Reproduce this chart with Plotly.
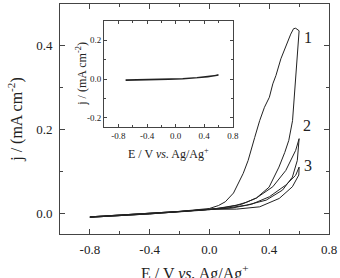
import plotly.graph_objects as go

# ---- data ----
# cycle 1
E1_fwd = [-0.8, -0.6, -0.4, -0.2, 0.0, 0.06, 0.106, 0.161, 0.226, 0.259, 0.303, 0.336, 0.368, 0.401, 0.424, 0.445, 0.478, 0.511, 0.544, 0.563, 0.577, 0.6]
j1_fwd = [-0.009, -0.005, -0.001, 0.004, 0.011, 0.018, 0.027, 0.048, 0.095, 0.126, 0.181, 0.221, 0.253, 0.277, 0.309, 0.329, 0.369, 0.400, 0.428, 0.441, 0.442, 0.436]
E1_rev = [0.6, 0.579, 0.566, 0.556, 0.531, 0.504, 0.465, 0.399, 0.314, 0.248, 0.182, 0.084, 0.0, -0.2, -0.4, -0.6, -0.8]
j1_rev = [0.436, 0.340, 0.269, 0.221, 0.174, 0.145, 0.110, 0.062, 0.036, 0.026, 0.019, 0.013, 0.008, 0.003, -0.002, -0.006, -0.010]
# cycle 2
E2_fwd = [-0.8, -0.6, -0.4, -0.2, 0.0, 0.117, 0.248, 0.380, 0.489, 0.555, 0.588, 0.6]
j2_fwd = [-0.009, -0.005, -0.001, 0.004, 0.009, 0.012, 0.019, 0.031, 0.055, 0.086, 0.126, 0.178]
E2_rev = [0.6, 0.577, 0.511, 0.424, 0.314, 0.215, 0.117, 0.0, -0.2, -0.4, -0.6, -0.8]
j2_rev = [0.178, 0.150, 0.102, 0.063, 0.036, 0.021, 0.014, 0.009, 0.003, -0.002, -0.006, -0.010]
# cycle 3
E3_fwd = [-0.8, -0.6, -0.4, -0.2, 0.0, 0.182, 0.336, 0.467, 0.555, 0.598, 0.6]
j3_fwd = [-0.009, -0.005, -0.001, 0.004, 0.009, 0.0095, 0.015, 0.035, 0.063, 0.091, 0.110]
E3_rev = [0.6, 0.577, 0.511, 0.401, 0.281, 0.150, 0.0, -0.2, -0.4, -0.6, -0.8]
j3_rev = [0.110, 0.0905, 0.067, 0.039, 0.021, 0.012, 0.009, 0.003, -0.002, -0.006, -0.010]
# inset (blank electrode)
Ei_fwd = [-0.7, -0.5, -0.3, -0.1, 0.1, 0.3, 0.45, 0.6]
ji_fwd = [-0.004, -0.003, -0.001, 0.0, 0.002, 0.007, 0.012, 0.020]
Ei_rev = [0.6, 0.45, 0.3, 0.1, -0.1, -0.3, -0.5, -0.7]
ji_rev = [0.020, 0.011, 0.006, 0.001, -0.002, -0.004, -0.006, -0.007]

cycle_labels = ["1", "2", "3"]
label_E = [0.66, 0.65, 0.66]
label_j = [0.42, 0.21, 0.113]

x_ticks = [-0.8, -0.4, 0.0, 0.4, 0.8]
x_ticktext = ["-0.8", "-0.4", "0.0", "0.4", "0.8"]
y_ticks = [0.0, 0.2, 0.4]
y_ticktext = ["0.0", "0.2", "0.4"]
yi_ticks = [-0.2, 0.0, 0.2]
yi_ticktext = ["-0.2", "0.0", "0.2"]

FONT = "Liberation Serif"
LC = "#222"
AX = "#444"

fig = go.Figure()
for E, j in [(E1_fwd + E1_rev, j1_fwd + j1_rev),
             (E2_fwd + E2_rev, j2_fwd + j2_rev),
             (E3_fwd + E3_rev, j3_fwd + j3_rev)]:
    fig.add_trace(go.Scatter(x=E, y=j, mode="lines", line=dict(color=LC, width=1),
                             showlegend=False, hoverinfo="skip", xaxis="x", yaxis="y"))
fig.add_trace(go.Scatter(x=Ei_fwd + Ei_rev, y=ji_fwd + ji_rev, mode="lines",
                         line=dict(color=LC, width=1.3), showlegend=False,
                         hoverinfo="skip", xaxis="x2", yaxis="y2"))

main_ax = dict(showline=True, linecolor=AX, linewidth=1, mirror="ticks", ticks="inside",
               ticklen=5, tickcolor=AX, showgrid=False, zeroline=False,
               tickfont=dict(family=FONT, size=13, color=LC))
inset_ax = dict(showline=True, linecolor=AX, linewidth=1, mirror="ticks", ticks="inside",
                ticklen=3, tickcolor=AX, showgrid=False, zeroline=False,
                tickfont=dict(family=FONT, size=9, color=LC))

fig.update_layout(
    width=340, height=278,
    margin=dict(l=60, r=6, t=3, b=44),
    paper_bgcolor="white", plot_bgcolor="white",
    font=dict(family=FONT, color=LC),
    xaxis=dict(range=[-1.0, 0.8], tickvals=x_ticks, ticktext=x_ticktext,
               minor=dict(dtick=0.2, tick0=0, ticklen=3, ticks="inside", tickcolor=AX),
               ticklabelstandoff=3, **main_ax),
    yaxis=dict(range=[-0.05, 0.5], tickvals=y_ticks, ticktext=y_ticktext,
               minor=dict(dtick=0.1, tick0=0, ticklen=3, ticks="inside", tickcolor=AX),
               ticklabelstandoff=4, **main_ax),
    xaxis2=dict(domain=[0.1642, 0.6423], anchor="y2", range=[-1.0, 0.8],
                tickvals=x_ticks, ticktext=x_ticktext,
                minor=dict(dtick=0.2, tick0=0, ticklen=2, ticks="inside", tickcolor=AX),
                **inset_ax),
    yaxis2=dict(domain=[0.4632, 0.9264], anchor="x2", range=[-0.25, 0.3],
                tickvals=yi_ticks, ticktext=yi_ticktext,
                minor=dict(dtick=0.1, tick0=0, ticklen=2, ticks="inside", tickcolor=AX),
                **inset_ax),
)

ann = []
for t, xe, yj in zip(cycle_labels, label_E, label_j):
    ann.append(dict(x=xe, y=yj, xref="x", yref="y", text=t, showarrow=False,
                    font=dict(family=FONT, size=16, color=LC), xanchor="center", yanchor="middle"))
ann.append(dict(x=-0.168, y=0.5, xref="paper", yref="paper", textangle=-90,
                text="j / (mA cm<sup>-2</sup>)", showarrow=False,
                font=dict(family=FONT, size=16, color=LC), xanchor="center", yanchor="middle"))
ann.append(dict(x=0.5, y=-0.168, xref="paper", yref="paper",
                text="E / V <i>vs.</i> Ag/Ag<sup>+</sup>", showarrow=False,
                font=dict(family=FONT, size=16, color=LC), xanchor="center", yanchor="middle"))
ann.append(dict(x=0.082, y=0.697, xref="paper", yref="paper", textangle=-90,
                text="j / (mA cm<sup>-2</sup>)", showarrow=False,
                font=dict(family=FONT, size=12, color=LC), xanchor="center", yanchor="middle"))
ann.append(dict(x=0.4015, y=0.352, xref="paper", yref="paper",
                text="E / V <i>vs.</i> Ag/Ag<sup>+</sup>", showarrow=False,
                font=dict(family=FONT, size=12, color=LC), xanchor="center", yanchor="middle"))
fig.update_layout(annotations=ann)

fig.write_html("out.html")
